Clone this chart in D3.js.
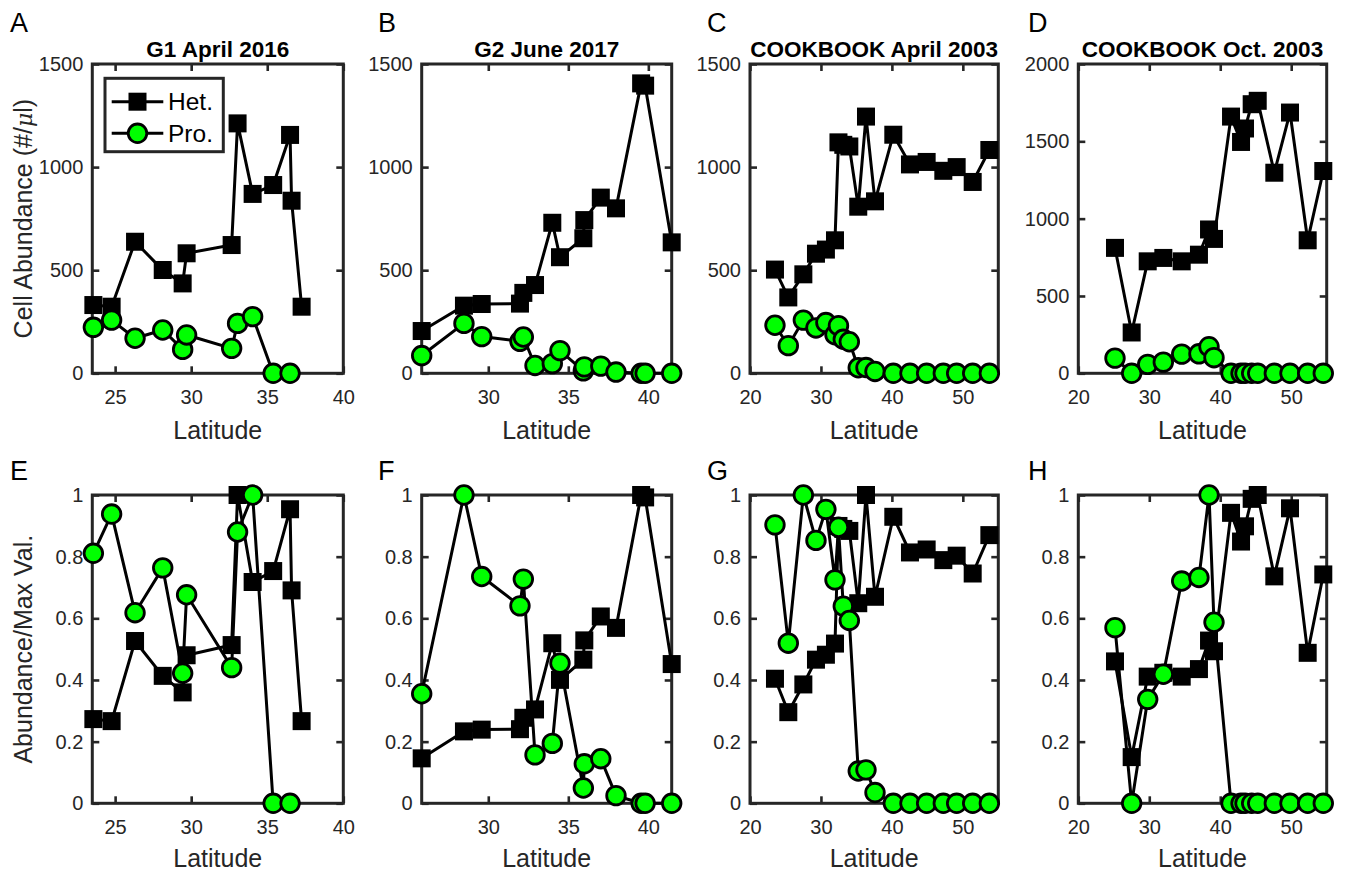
<!DOCTYPE html>
<html><head><meta charset="utf-8">
<script src="https://cdn.jsdelivr.net/npm/d3@7"></script>
<style>
body{margin:0;background:#fff}
svg{display:block}
text{font-family:"Liberation Sans",Arial,Helvetica,sans-serif}
</style>
</head><body>
<svg id="chart" width="1347" height="872"></svg>
<script>
// ---------- DATA ----------
const titles = ["G1 April 2016", "G2 June 2017", "COOKBOOK April 2003", "COOKBOOK Oct. 2003"];
const lettersTop = ["A", "B", "C", "D"];
const lettersBottom = ["E", "F", "G", "H"];

const latA = [23.57, 24.77, 26.31, 28.13, 29.44, 29.70, 32.66, 33.05, 34.04, 35.39, 36.50, 36.60, 37.26];
const hetA = [331, 323, 638, 501, 436, 582, 622, 1212, 870, 913, 1156, 837, 323];
const proA = [223, 258, 170, 210, 116, 186, 121, 242, 275, 0, 0, null, null];

const latB = [25.84, 28.48, 29.59, 31.98, 32.19, 32.92, 34.00, 34.48, 35.94, 36.00, 37.03, 37.98, 39.55, 39.80, 41.46];
const hetB = [205, 328, 336, 338, 390, 428, 730, 563, 655, 743, 852, 800, 1406, 1395, 635];
const proB = [86, 242, 178, 155, 176, 38, 47, 110, 12, 31, 35, 6, 0, 0, 0];

const latC = [23.52, 25.40, 27.52, 29.30, 30.70, 31.98, 32.47, 33.15, 34.00, 35.26, 36.35, 37.62, 40.20, 42.55, 44.90, 47.25, 49.13, 51.39, 53.74];
const hetC = [503, 368, 480, 580, 600, 645, 1120, 1108, 1100, 808, 1245, 834, 1157, 1013, 1025, 982, 1000, 928, 1083];
const proC = [233, 134, 258, 220, 246, 187, 231, 165, 153, 27, 28, 9, 0, 0, 0, 0, 0, 0, 0];

const latD = [25.17, 27.52, 29.78, 31.98, 34.57, 37.00, 38.42, 39.12, 41.52, 42.93, 43.49, 44.43, 45.28, 47.62, 49.83, 52.32, 54.52];
const hetD = [811, 264, 724, 746, 724, 767, 930, 869, 1660, 1496, 1583, 1740, 1762, 1297, 1686, 860, 1308];
const proD = [98, 0, 58, 72, 124, 126, 172, 101, 0, 0, 0, 0, 0, 0, 0, 0, 0];

const xDomains = [[23.5, 40], [25.84, 41.46], [20, 55], [20, 55]];
const xTickValues = [[25, 30, 35, 40], [30, 35, 40], [20, 30, 40, 50], [20, 30, 40, 50]];
const yMaxTop = [1500, 1500, 1500, 2000];
const yTicksTop = [[0, 500, 1000, 1500], [0, 500, 1000, 1500], [0, 500, 1000, 1500], [0, 500, 1000, 1500, 2000]];
const yTicksNorm = [0, 0.2, 0.4, 0.6, 0.8, 1];
const legendLabels = ["Het.", "Pro."];

const lats = [latA, latB, latC, latD];
const hets = [hetA, hetB, hetC, hetD];
const pros = [proA, proB, proC, proD];

// ---------- LAYOUT ----------
const lefts = [92.3, 421.7, 750, 1078.3];
const rights = [343.3, 671.7, 998.3, 1326.7];
const rows = [[64, 373.3], [495, 803.3]];
const letterX = [10, 378, 707, 1028];
const axisColor = "#262626";
const green = "#00ff00";

const svg = d3.select("#chart");

function drawPanel(col, row) {
  const [top, bottom] = rows[row];
  const left = lefts[col], right = rights[col];
  const x = d3.scaleLinear().domain(xDomains[col]).range([left, right]);
  const lat = lats[col];
  let het = hets[col], pro = pros[col];
  let yDomain, yTicks, fmt;
  if (row === 0) {
    yDomain = [0, yMaxTop[col]]; yTicks = yTicksTop[col]; fmt = d3.format("d");
  } else {
    const mh = d3.max(het), mp = d3.max(pro);
    het = het.map(v => v == null ? null : v / mh);
    pro = pro.map(v => v == null ? null : v / mp);
    yDomain = [0, 1]; yTicks = yTicksNorm; fmt = d => d === 0 || d === 1 ? String(d) : d3.format(".1f")(d);
  }
  const y = d3.scaleLinear().domain(yDomain).range([bottom, top]);
  const g = svg.append("g");

  // axes (inward ticks on all four sides)
  const tk = 7;
  const ax = [
    [d3.axisBottom(x).tickValues(xTickValues[col]).tickSizeInner(-tk).tickSizeOuter(0).tickPadding(17), `translate(0,${bottom})`, true],
    [d3.axisTop(x).tickValues(xTickValues[col]).tickSizeInner(-tk).tickSizeOuter(0).tickFormat(""), `translate(0,${top})`, false],
    [d3.axisLeft(y).tickValues(yTicks).tickFormat(fmt).tickSizeInner(-tk).tickSizeOuter(0).tickPadding(9), `translate(${left},0)`, true],
    [d3.axisRight(y).tickValues(yTicks).tickSizeInner(-tk).tickSizeOuter(0).tickFormat(""), `translate(${right},0)`, false]
  ];
  ax.forEach(([a, tr]) => {
    const ag = g.append("g").attr("transform", tr).call(a);
    ag.select(".domain").remove();
    ag.selectAll(".tick line").attr("stroke", axisColor).attr("stroke-width", 2.6);
    ag.selectAll(".tick text").attr("fill", axisColor).attr("font-size", 20)
      .attr("font-family", '"Liberation Sans",Arial,sans-serif');
  });
  g.append("rect").attr("x", left).attr("y", top).attr("width", right - left).attr("height", bottom - top)
    .attr("fill", "none").attr("stroke", axisColor).attr("stroke-width", 3);

  // data
  const pts = (vals) => lat.map((l, i) => ({x: l, y: vals[i]}));
  const line = d3.line().defined(d => d.y != null).x(d => x(d.x)).y(d => y(d.y));
  const hp = pts(het), pp = pts(pro);
  g.append("path").datum(hp).attr("d", line).attr("fill", "none").attr("stroke", "#000").attr("stroke-width", 3).attr("stroke-linejoin", "miter");
  const s = 18;
  g.selectAll(".sq").data(hp.filter(d => d.y != null)).join("rect")
    .attr("x", d => x(d.x) - s / 2).attr("y", d => y(d.y) - s / 2).attr("width", s).attr("height", s)
    .attr("fill", "#000");
  g.append("path").datum(pp).attr("d", line).attr("fill", "none").attr("stroke", "#000").attr("stroke-width", 3);
  g.selectAll(".ci").data(pp.filter(d => d.y != null)).join("circle")
    .attr("cx", d => x(d.x)).attr("cy", d => y(d.y)).attr("r", 9.3)
    .attr("fill", green).attr("stroke", "#000").attr("stroke-width", 2.8);

  // x label
  g.append("text").attr("x", (left + right) / 2).attr("y", row === 0 ? 439 : 867)
    .attr("text-anchor", "middle").attr("font-size", 25).attr("fill", axisColor).text("Latitude");

  // panel letter
  svg.append("text").attr("x", letterX[col]).attr("y", row === 0 ? 32 : 480)
    .attr("font-size", 27).attr("fill", "#000").text(row === 0 ? lettersTop[col] : lettersBottom[col]);

  // title
  if (row === 0) {
    g.append("text").attr("x", (left + right) / 2).attr("y", 57).attr("text-anchor", "middle")
      .attr("font-size", 22.5).attr("font-weight", "bold").attr("fill", "#000").text(titles[col]);
  }
  return {x, y};
}

for (let r = 0; r < 2; r++) for (let c = 0; c < 4; c++) drawPanel(c, r);

// y labels
const yl1 = svg.append("text").attr("transform", `translate(32,${(rows[0][0] + rows[0][1]) / 2}) rotate(-90)`)
  .attr("text-anchor", "middle").attr("font-size", 25).attr("fill", axisColor);
yl1.append("tspan").text("Cell Abundance (#/");
yl1.append("tspan").attr("font-style", "italic").attr("font-family", '"DejaVu Serif",serif').attr("font-size", 22).text("μ");
yl1.append("tspan").text("l)");
svg.append("text").attr("transform", `translate(32,${(rows[1][0] + rows[1][1]) / 2}) rotate(-90)`)
  .attr("text-anchor", "middle").attr("font-size", 25).attr("fill", axisColor).text("Abundance/Max Val.");

// legend (panel A)
const lg = svg.append("g");
lg.append("rect").attr("x", 105).attr("y", 78.3).attr("width", 118.3).attr("height", 73.4)
  .attr("fill", "#fff").attr("stroke", axisColor).attr("stroke-width", 3);
const legY = [101.7, 133.3];
legendLabels.forEach((lab, i) => {
  lg.append("line").attr("x1", 111.7).attr("x2", 163.3).attr("y1", legY[i]).attr("y2", legY[i])
    .attr("stroke", "#000").attr("stroke-width", 3);
  if (i === 0) {
    lg.append("rect").attr("x", 137.5 - 9).attr("y", legY[i] - 9).attr("width", 18).attr("height", 18).attr("fill", "#000");
  } else {
    lg.append("circle").attr("cx", 137.5).attr("cy", legY[i]).attr("r", 9.3)
      .attr("fill", green).attr("stroke", "#000").attr("stroke-width", 2.8);
  }
  lg.append("text").attr("x", 168).attr("y", legY[i] + 8.5).attr("font-size", 24.5).attr("fill", "#000").text(lab);
});
</script>
</body></html>
